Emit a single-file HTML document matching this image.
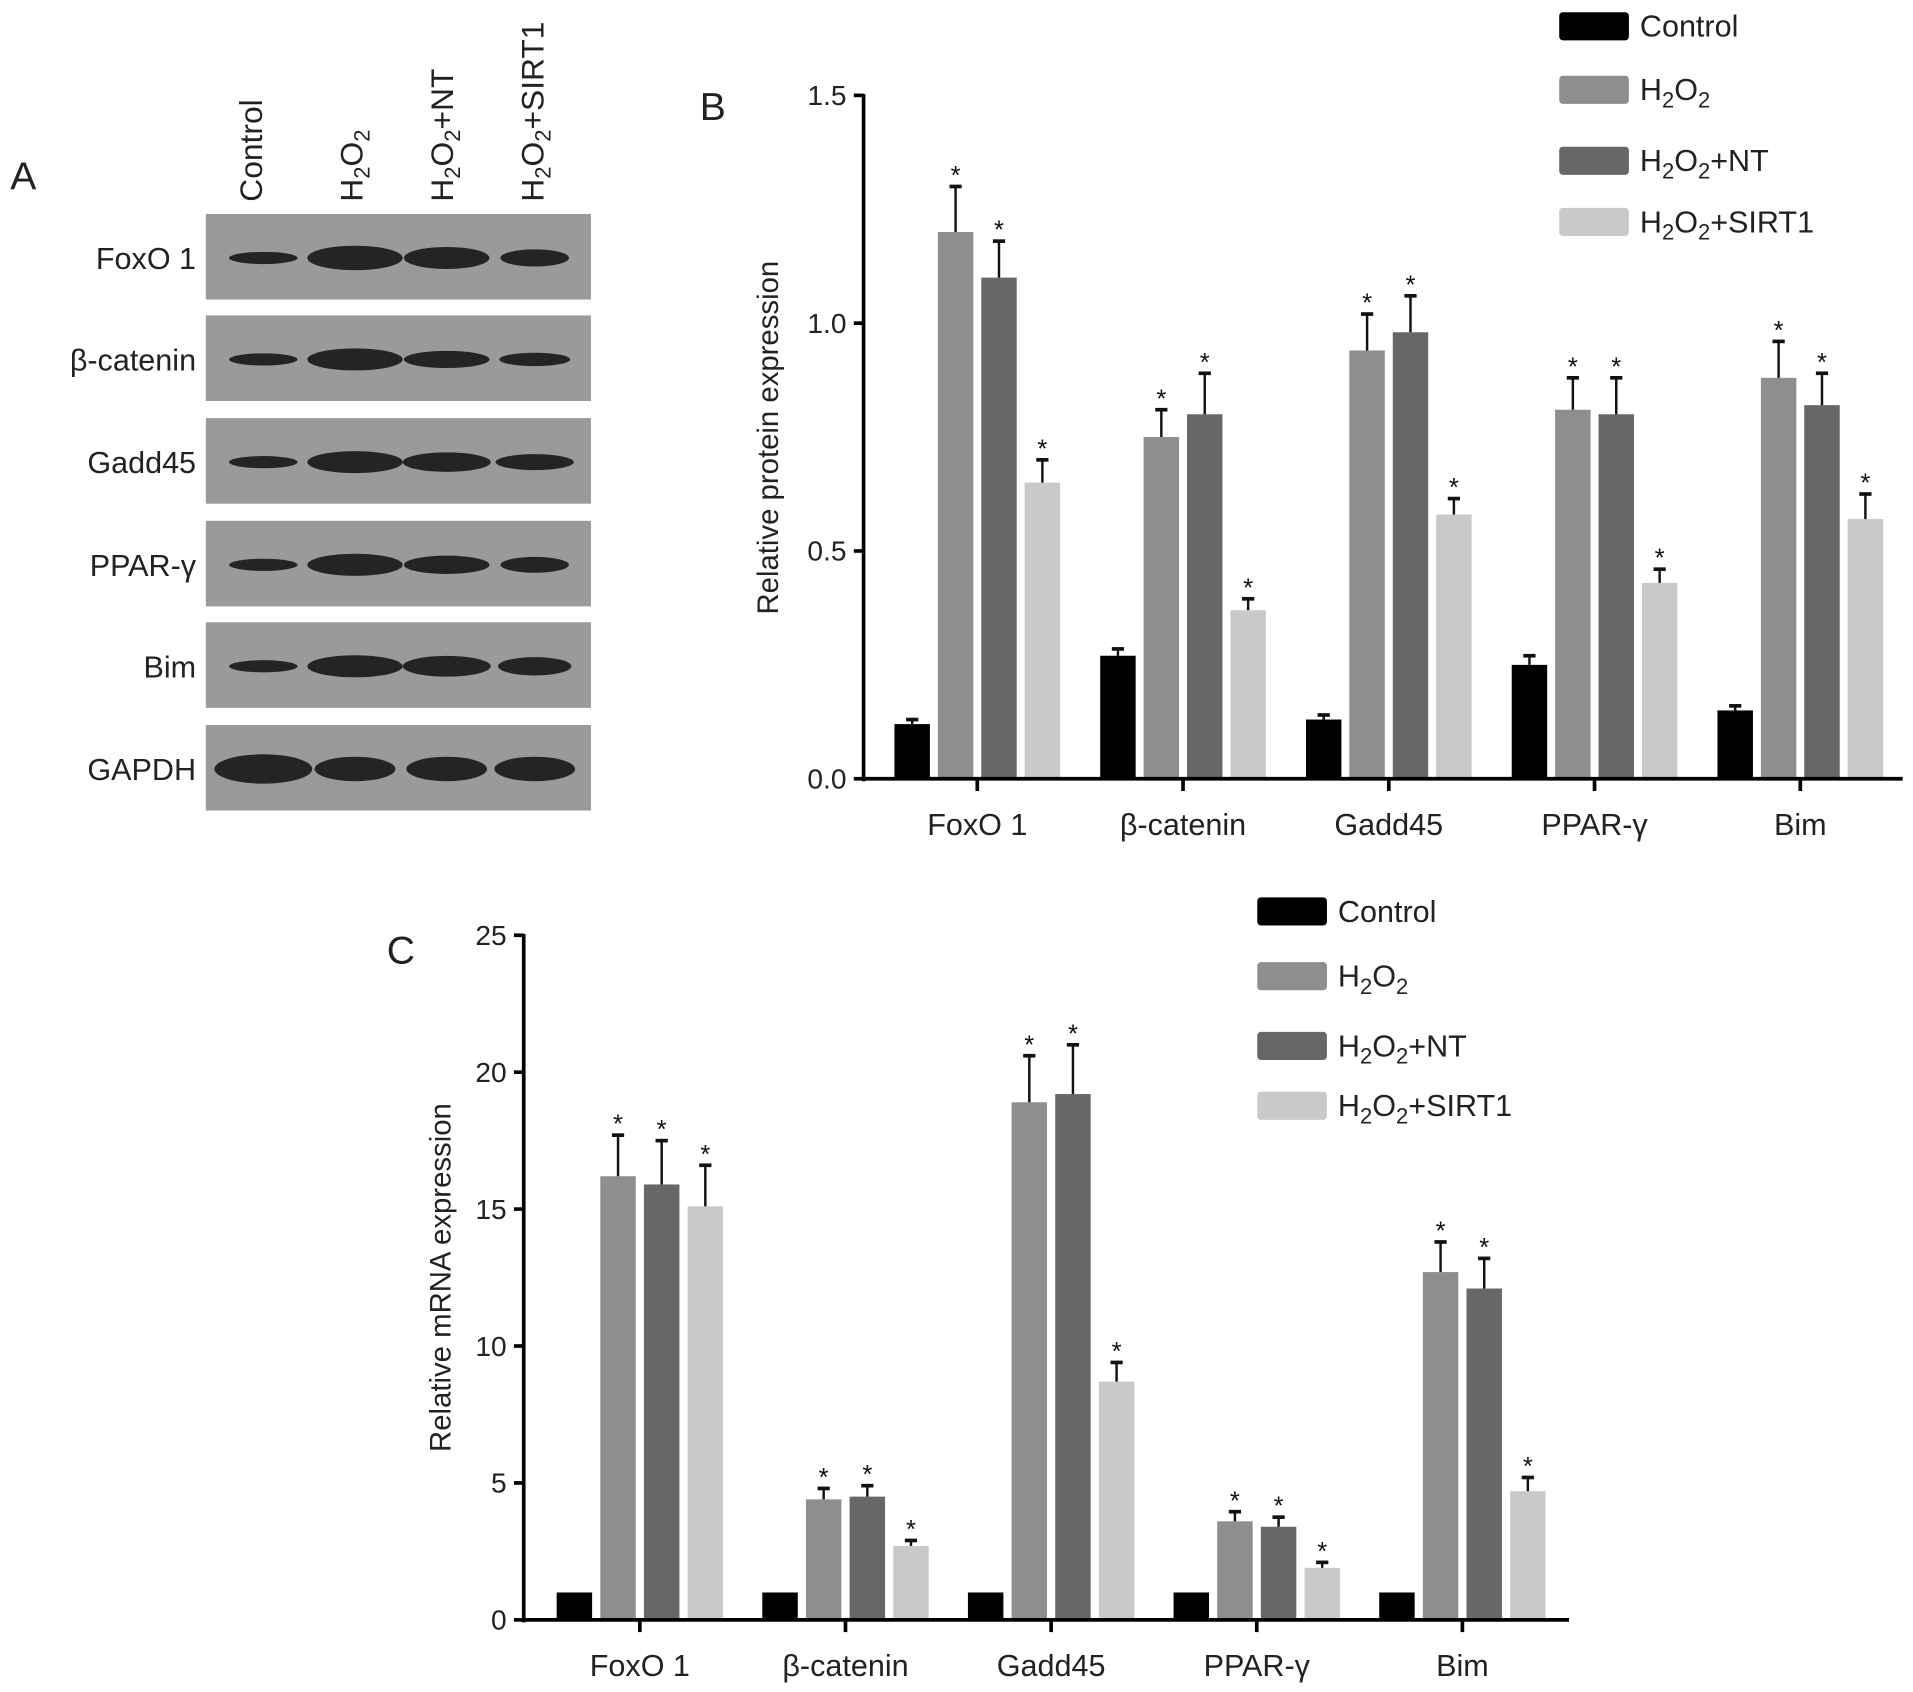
<!DOCTYPE html>
<html><head><meta charset="utf-8"><style>
html,body{margin:0;padding:0;background:#fff;}
svg{display:block;font-family:"Liberation Sans",Arial,sans-serif;}
</style></head><body>
<svg id="fig" width="1913" height="1692" viewBox="0 0 1564 1384" xmlns="http://www.w3.org/2000/svg">
<g id="panelA"></g>
<g id="panelB"></g>
<g id="panelC"></g>
</svg>
<script>
const NS="http://www.w3.org/2000/svg";
const categories=["FoxO 1","β-catenin","Gadd45","PPAR-γ","Bim"];
const seriesNames=["Control","H2O2","H2O2+NT","H2O2+SIRT1"];
const seriesColors=["#000000","#8e8e8e","#676767","#c9c9c9"];
const protControl=[0.12,0.27,0.13,0.25,0.15];
const protH2O2=[1.20,0.75,0.94,0.81,0.88];
const protNT=[1.10,0.80,0.98,0.80,0.82];
const protSIRT1=[0.65,0.37,0.58,0.43,0.57];
const protErrControl=[0.01,0.015,0.01,0.02,0.01];
const protErrH2O2=[0.10,0.06,0.08,0.07,0.08];
const protErrNT=[0.08,0.09,0.08,0.08,0.07];
const protErrSIRT1=[0.05,0.025,0.035,0.03,0.055];
const protTicks=["0.0","0.5","1.0","1.5"];
const mrnaControl=[1,1,1,1,1];
const mrnaH2O2=[16.2,4.4,18.9,3.6,12.7];
const mrnaNT=[15.9,4.5,19.2,3.4,12.1];
const mrnaSIRT1=[15.1,2.7,8.7,1.9,4.7];
const mrnaErrH2O2=[1.5,0.4,1.7,0.35,1.1];
const mrnaErrNT=[1.6,0.4,1.8,0.35,1.1];
const mrnaErrSIRT1=[1.5,0.2,0.7,0.2,0.5];
const mrnaTicks=["0","5","10","15","20","25"];

function el(tag,attrs,parent,text){const e=document.createElementNS(NS,tag);for(const k in attrs)e.setAttribute(k,attrs[k]);if(text!==undefined)e.textContent=text;parent.appendChild(e);return e;}
function legendLabel(parent,x,y,name,fs){
  fs=fs||24;
  const t=el("text",{x:x,y:y,"font-size":fs,fill:"#222"},parent);
  if(name==="Control"){t.textContent="Control";return t;}
  const parts=[["H",0],["2",1],["O",0],["2",1]];
  parts.forEach(p=>{const s=el("tspan",{},t,p[0]);if(p[1]){s.setAttribute("font-size",String(Math.round(fs*0.7)));s.setAttribute("dy","6");}else if(t.childNodes.length>1){s.setAttribute("dy","-6");}});
  if(name!=="H2O2"){el("tspan",{dy:"-6"},t,name.slice(4));}
  return t;
}
function drawChart(g,o){
  const ys=v=>o.y0-(v-o.min)/(o.max-o.min)*(o.y0-o.yTop);
  const xs=i=>o.gx0+i*o.gstep;
  const series=[o.control,o.h2o2,o.nt,o.sirt1];
  const errs=[o.errC,o.errH,o.errN,o.errS];
  series.forEach((vals,s)=>{
    vals.forEach((v,i)=>{
      const cx=xs(i)+(s-1.5)*o.bstep;
      const b=el("rect",{x:cx-o.bw/2,y:ys(v),width:o.bw,height:o.y0-ys(v),fill:seriesColors[s]},g);
      
      
      const e=errs[s]?errs[s][i]:0;
      if(e){
        const top=ys(v+e);
        el("line",{x1:cx,x2:cx,y1:ys(v),y2:top,stroke:"#111","stroke-width":2},g);
        el("line",{x1:cx-5,x2:cx+5,y1:top,y2:top,stroke:"#111","stroke-width":3},g);
        if(s>0){const st=el("text",{x:cx,y:top-2,"font-size":21,"text-anchor":"middle",fill:"#111"},g,"*");
          }
      }
    });
  });
  el("line",{x1:o.x0,x2:o.x0,y1:o.yTop-1,y2:o.y0+2,stroke:"#000","stroke-width":3},g);
  el("line",{x1:o.x0,x2:o.xEnd,y1:o.y0,y2:o.y0,stroke:"#000","stroke-width":3},g);
  o.ticks.forEach(t=>{const y=ys(parseFloat(t));
    el("line",{x1:o.x0-8,x2:o.x0,y1:y,y2:y,stroke:"#000","stroke-width":3},g);
    const tl=el("text",{x:o.x0-14,y:y+8,"font-size":23,"text-anchor":"end",fill:"#222"},g,t);
    });
  categories.forEach((c,i)=>{
    el("line",{x1:xs(i),x2:xs(i),y1:o.y0,y2:o.y0+10,stroke:"#000","stroke-width":3},g);
    const cl=el("text",{x:xs(i),y:o.y0+46,"font-size":25,"text-anchor":"middle",fill:"#222"},g,c);
    });
  const yl=el("text",{x:0,y:0,"font-size":24,"text-anchor":"middle",fill:"#222",transform:`translate(${o.ylx},${o.yly}) rotate(-90)`},g,o.ylabel);
  
  const pl=el("text",{x:o.plx,y:o.ply,"font-size":32,fill:"#222"},g,o.panel);
  
  o.legY.forEach((ly,s)=>{
    const sw=el("rect",{x:o.legX,y:ly,width:57,height:23,rx:3,fill:seriesColors[s]},g);
    
    const lt=legendLabel(g,o.legX+66,ly+20,seriesNames[s],25);
    
  });
}
drawChart(document.getElementById("panelB"),{min:0,max:1.5,y0:637,yTop:78,x0:706,xEnd:1556,gx0:799,gstep:168.3,bstep:35.5,bw:29,
  control:protControl,h2o2:protH2O2,nt:protNT,sirt1:protSIRT1,errC:protErrControl,errH:protErrH2O2,errN:protErrNT,errS:protErrSIRT1,
  ticks:protTicks,ylabel:"Relative protein expression",ylx:636,yly:358,panel:"B",plx:572,ply:98,legX:1275,legY:[10,62,120,170]});
drawChart(document.getElementById("panelC"),{min:0,max:25,y0:1325,yTop:765,x0:428,xEnd:1283,gx0:523,gstep:168.2,bstep:35.7,bw:29,
  control:mrnaControl,h2o2:mrnaH2O2,nt:mrnaNT,sirt1:mrnaSIRT1,errC:null,errH:mrnaErrH2O2,errN:mrnaErrNT,errS:mrnaErrSIRT1,
  ticks:mrnaTicks,ylabel:"Relative mRNA expression",ylx:368,yly:1045,panel:"C",plx:316,ply:788,legX:1028,legY:[734,787,844,893]});

// Panel A blot
const blotRows=["FoxO 1","β-catenin","Gadd45","PPAR-γ","Bim","GAPDH"];
const blotRowY=[175,258,342,426,509,593];
const laneX=[215,290,365,437];
const bandW=[[56,78,70,56],[56,78,70,58],[56,78,72,64],[56,78,70,56],[56,78,72,60],[80,66,66,66]];
const bandH=[[10,20,18,14],[10,18,14,11],[10,18,16,13],[10,18,15,13],[10,18,17,15],[24,20,20,20]];
const A=document.getElementById("panelA");
const la=el("text",{x:8,y:155,"font-size":32,fill:"#222"},A,"A");

blotRows.forEach((r,i)=>{
  const y=blotRowY[i];
  const box=el("rect",{x:168,y:y,width:315,height:70,fill:"#9a9a9a"},A);
  
  laneX.forEach((x,j)=>{el("ellipse",{cx:x,cy:y+36,rx:bandW[i][j]/2,ry:bandH[i][j]/2,fill:"#1a1a1a",opacity:0.92},A);});
  const t=el("text",{x:160,y:y+45,"font-size":25,"text-anchor":"end",fill:"#222"},A,r);
  
});
const laneLabels=["Control","H2O2","H2O2+NT","H2O2+SIRT1"];
const laneLabelX=[214,296,370,444];
laneLabels.forEach((n,i)=>{
  const g=el("g",{transform:`translate(${laneLabelX[i]},165) rotate(-90)`},A);
  const t=legendLabel(g,0,0,n,26);
  
});
</script>
</body></html>
